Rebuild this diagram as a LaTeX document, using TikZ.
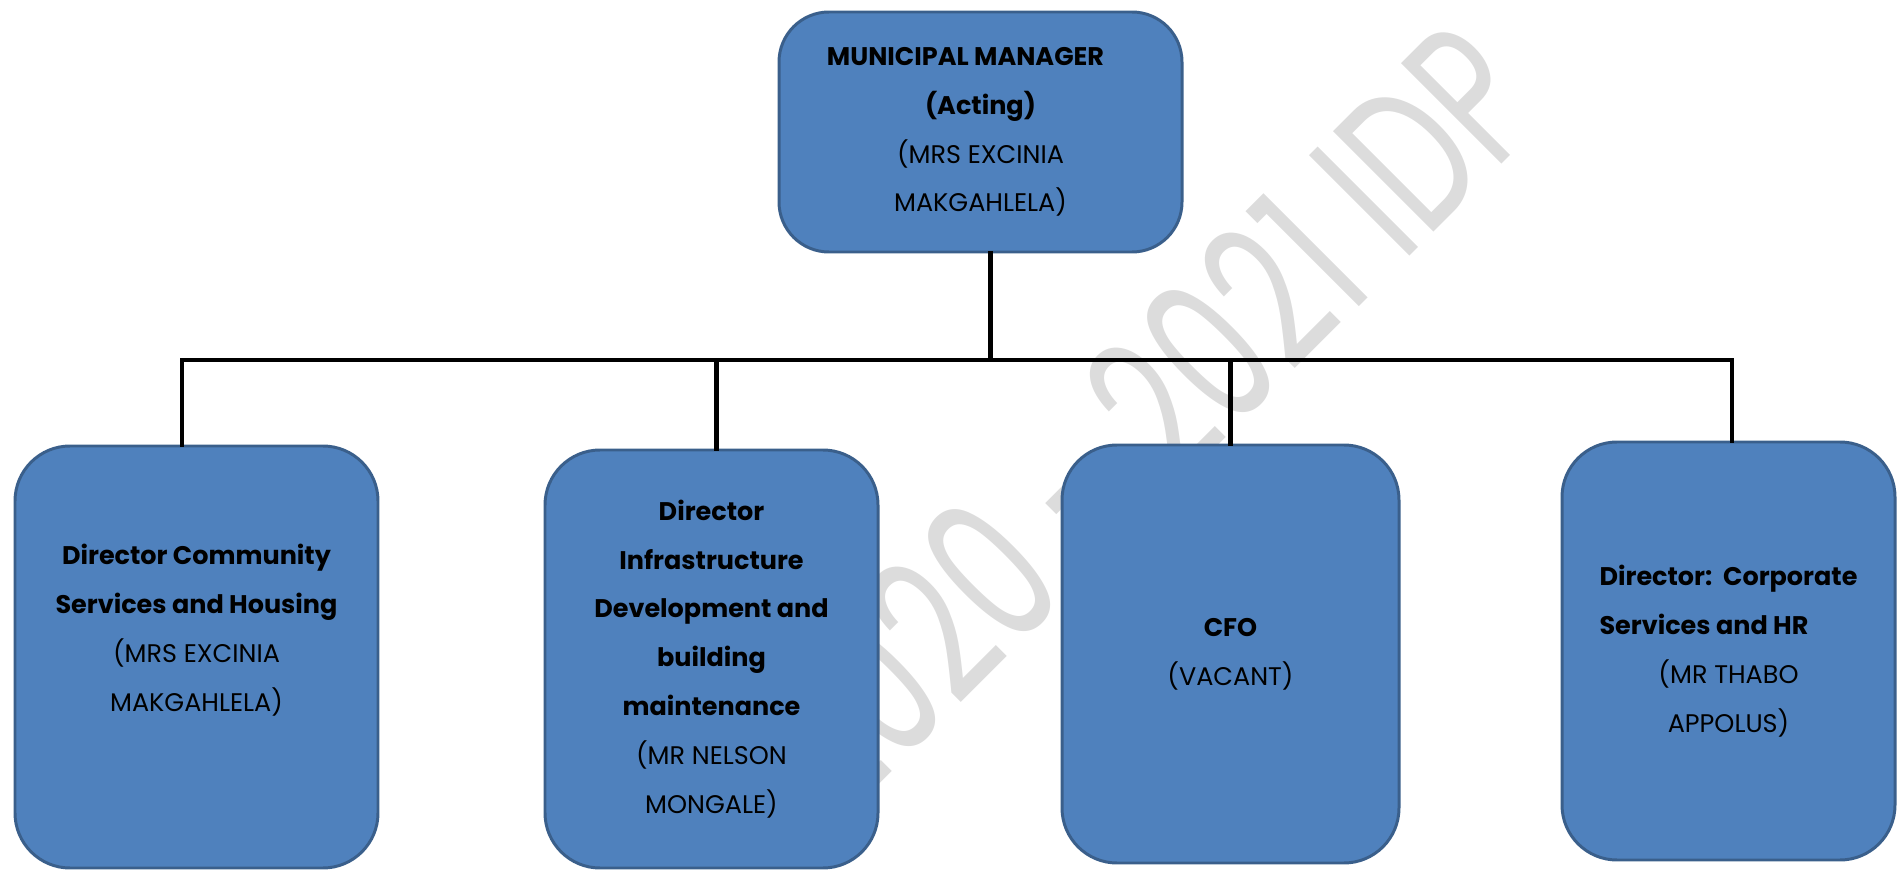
\documentclass[tikz,border=0pt]{standalone}
\usepackage{fontspec}
\setmainfont{Poppins}
\usepackage{graphicx}
\definecolor{orgFill}{HTML}{4F81BD}
\definecolor{orgEdge}{HTML}{3A5F8B}
\definecolor{orgMark}{HTML}{DCDCDC}
\tikzset{
	orgbox/.style={
		draw=orgEdge,
		fill=orgFill,
		line width=1.7pt,
		align=center,
		inner sep=0pt,
		font=\fontsize{14.5}{27.8}\selectfont
	},
	orgHead/.style={orgbox, rounded corners=1cm, minimum width=8.06cm, minimum height=4.8cm},
	orgDirector/.style={orgbox, rounded corners=1.1cm, minimum height=8.36cm},
	orgLine/.style={line width=2.4pt, line cap=rect},
	orgWatermark/.style={text=orgMark, rotate=45, inner sep=0pt}
}

\begin{document}
\begin{tikzpicture}

	\useasboundingbox (0,0) rectangle (37.98,-17.44);

	% Watermark
	\node[orgWatermark] (mark) at (22.86,-8.34) {\resizebox{20cm}{3cm}{2020 - 2021 IDP}};

	% Top layer
	\node[orgHead] (mm) at (19.61,-2.64)
	{\textbf{MUNICIPAL MANAGER}\kern0.6cm\\\textbf{(Acting)}\\(MRS EXCINIA\\MAKGAHLELA)};

	% Director layer
	\node[orgDirector, minimum width=7.26cm, minimum height=8.44cm] (dcs) at (3.93,-13.14)
	{\textbf{Director Community}\\\textbf{Services and Housing}\\(MRS EXCINIA\\MAKGAHLELA)\\[0.2cm]\mbox{}};
	\node[orgDirector, minimum width=6.66cm] (dinfra) at (14.23,-13.18)
	{\textbf{Director}\\\textbf{Infrastructure}\\\textbf{Development and}\\\textbf{building}\\\textbf{maintenance}\\ (MR NELSON\\MONGALE)};
	\node[orgDirector, minimum width=6.74cm] (cfo) at (24.61,-13.08)
	{\textbf{CFO}\\(VACANT)};
	\node[orgDirector, minimum width=6.66cm] (dcorp) at (34.57,-13.02)
	{\global\setbox1\hbox{\bfseries Director:\ \ Corporate}\copy1\\
		\makebox[\wd1][l]{\bfseries Services and HR}\\(MR THABO\\APPOLUS)};

	% Bar
	\coordinate (barL) at (3.64,-7.2);
	\coordinate (barR) at (34.64,-7.2);

	% Lines
	\draw[orgLine] ([xshift=2mm]mm.south) -- ([xshift=2mm]mm.south |- barL);
	\draw[orgLine] (barL) -- (barR);
	\draw[orgLine] (barL) -- (barL |- dcs.north);
	\draw[orgLine] ([xshift=1mm]dinfra.north |- barL) -- ([xshift=1mm]dinfra.north);
	\draw[orgLine] (cfo.north |- barL) -- (cfo.north);
	\draw[orgLine] (barR) -- (barR |- dcorp.north);

\end{tikzpicture}
\end{document}
